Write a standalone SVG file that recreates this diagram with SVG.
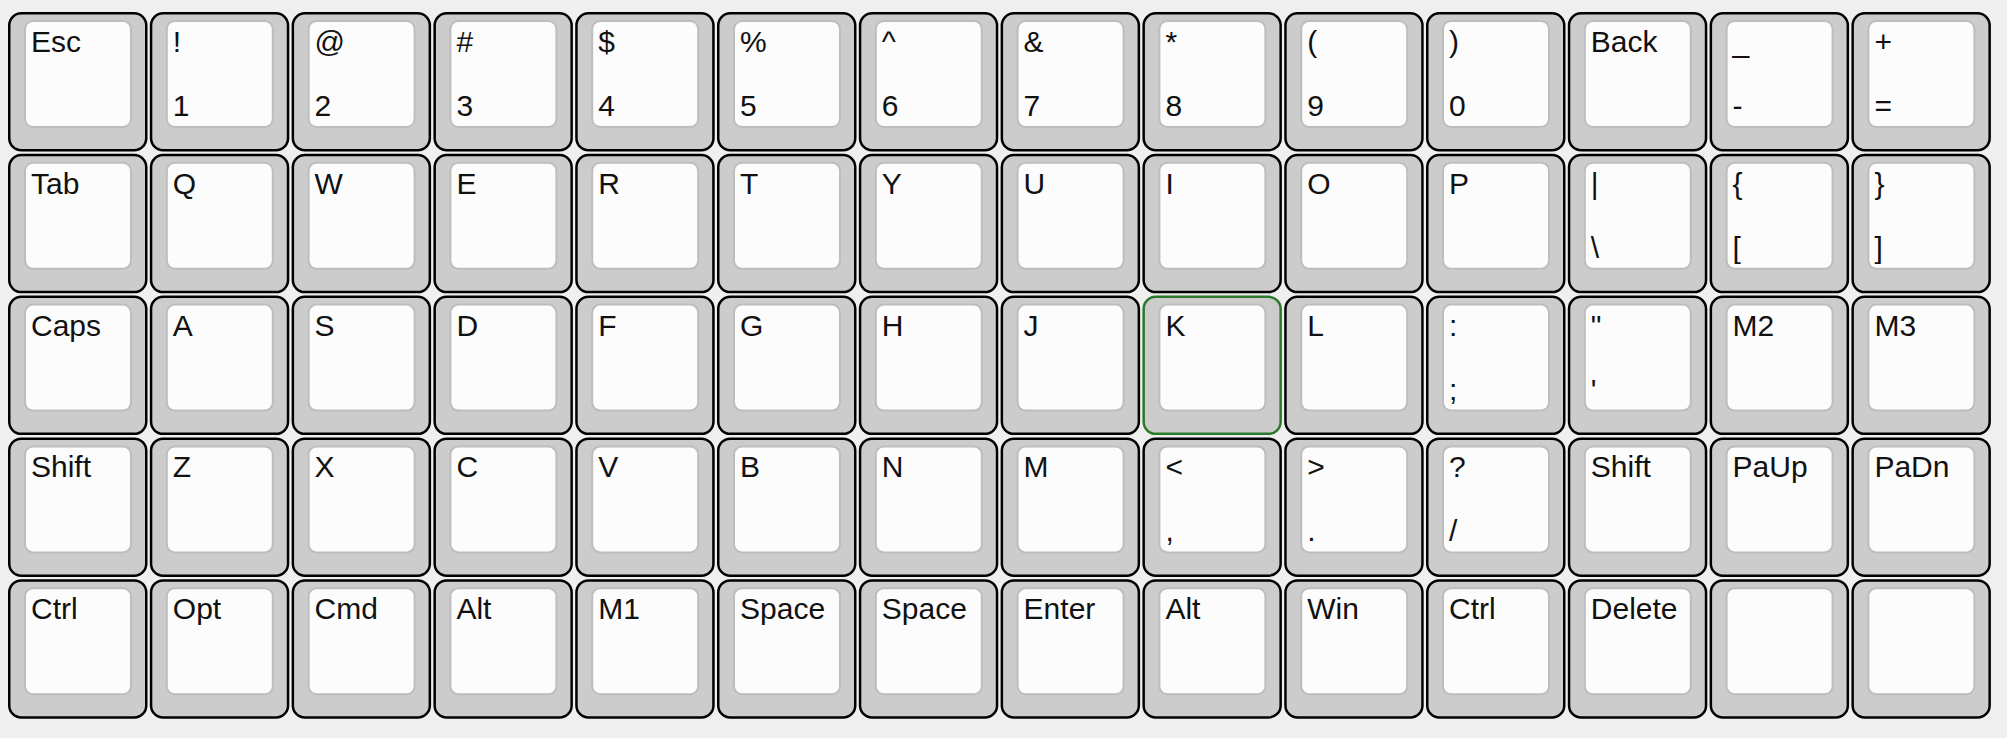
<svg xmlns="http://www.w3.org/2000/svg" xmlns:xlink="http://www.w3.org/1999/xlink" width="2007" height="738" viewBox="0 0 2007 738">
<style>
.t{font-family:"Liberation Sans",Arial,sans-serif;font-size:30px;fill:#111}
.outer{fill:#cccccc;stroke:#000;stroke-width:2.5}
.sel{fill:#cccccc;stroke:#2a7a2a;stroke-width:2.5}
.inner{fill:#fcfcfc;stroke:#bdbdbd;stroke-width:2}
</style>
<defs>
<g id="cap"><rect class="outer" x="1.25" y="1.25" width="137" height="137" rx="12"/><rect class="inner" x="17" y="9" width="106" height="106" rx="8"/></g>
<g id="capsel"><rect class="sel" x="1.25" y="1.25" width="137" height="137" rx="12"/><rect class="inner" x="17" y="9" width="106" height="106" rx="8"/></g>
</defs>
<rect width="2007" height="738" fill="#efefef"/>
<g id="row0">
<g id="k-esc" transform="translate(8,12)"><use href="#cap"/><text class="t" x="23" y="40">Esc</text></g>
<g id="k-1" transform="translate(149.8,12)"><use href="#cap"/><text class="t" x="23" y="40">!</text><text class="t" x="23" y="104">1</text></g>
<g id="k-2" transform="translate(291.6,12)"><use href="#cap"/><text class="t" x="23" y="40">@</text><text class="t" x="23" y="104">2</text></g>
<g id="k-3" transform="translate(433.4,12)"><use href="#cap"/><text class="t" x="23" y="40">#</text><text class="t" x="23" y="104">3</text></g>
<g id="k-4" transform="translate(575.2,12)"><use href="#cap"/><text class="t" x="23" y="40">$</text><text class="t" x="23" y="104">4</text></g>
<g id="k-5" transform="translate(717,12)"><use href="#cap"/><text class="t" x="23" y="40">%</text><text class="t" x="23" y="104">5</text></g>
<g id="k-6" transform="translate(858.8,12)"><use href="#cap"/><text class="t" x="23" y="40">^</text><text class="t" x="23" y="104">6</text></g>
<g id="k-7" transform="translate(1000.6,12)"><use href="#cap"/><text class="t" x="23" y="40">&amp;</text><text class="t" x="23" y="104">7</text></g>
<g id="k-8" transform="translate(1142.4,12)"><use href="#cap"/><text class="t" x="23" y="40">*</text><text class="t" x="23" y="104">8</text></g>
<g id="k-9" transform="translate(1284.2,12)"><use href="#cap"/><text class="t" x="23" y="40">(</text><text class="t" x="23" y="104">9</text></g>
<g id="k-0" transform="translate(1426,12)"><use href="#cap"/><text class="t" x="23" y="40">)</text><text class="t" x="23" y="104">0</text></g>
<g id="k-back" transform="translate(1567.8,12)"><use href="#cap"/><text class="t" x="23" y="40">Back</text></g>
<g id="k-minus" transform="translate(1709.6,12)"><use href="#cap"/><text class="t" x="23" y="40">_</text><text class="t" x="23" y="104">-</text></g>
<g id="k-equal" transform="translate(1851.4,12)"><use href="#cap"/><text class="t" x="23" y="40">+</text><text class="t" x="23" y="104">=</text></g>
</g>
<g id="row1">
<g id="k-tab" transform="translate(8,153.8)"><use href="#cap"/><text class="t" x="23" y="40">Tab</text></g>
<g id="k-q" transform="translate(149.8,153.8)"><use href="#cap"/><text class="t" x="23" y="40">Q</text></g>
<g id="k-w" transform="translate(291.6,153.8)"><use href="#cap"/><text class="t" x="23" y="40">W</text></g>
<g id="k-e" transform="translate(433.4,153.8)"><use href="#cap"/><text class="t" x="23" y="40">E</text></g>
<g id="k-r" transform="translate(575.2,153.8)"><use href="#cap"/><text class="t" x="23" y="40">R</text></g>
<g id="k-t" transform="translate(717,153.8)"><use href="#cap"/><text class="t" x="23" y="40">T</text></g>
<g id="k-y" transform="translate(858.8,153.8)"><use href="#cap"/><text class="t" x="23" y="40">Y</text></g>
<g id="k-u" transform="translate(1000.6,153.8)"><use href="#cap"/><text class="t" x="23" y="40">U</text></g>
<g id="k-i" transform="translate(1142.4,153.8)"><use href="#cap"/><text class="t" x="23" y="40">I</text></g>
<g id="k-o" transform="translate(1284.2,153.8)"><use href="#cap"/><text class="t" x="23" y="40">O</text></g>
<g id="k-p" transform="translate(1426,153.8)"><use href="#cap"/><text class="t" x="23" y="40">P</text></g>
<g id="k-pipe" transform="translate(1567.8,153.8)"><use href="#cap"/><text class="t" x="23" y="40">|</text><text class="t" x="23" y="104">\</text></g>
<g id="k-lbrace" transform="translate(1709.6,153.8)"><use href="#cap"/><text class="t" x="23" y="40">{</text><text class="t" x="23" y="104">[</text></g>
<g id="k-rbrace" transform="translate(1851.4,153.8)"><use href="#cap"/><text class="t" x="23" y="40">}</text><text class="t" x="23" y="104">]</text></g>
</g>
<g id="row2">
<g id="k-caps" transform="translate(8,295.6)"><use href="#cap"/><text class="t" x="23" y="40">Caps</text></g>
<g id="k-a" transform="translate(149.8,295.6)"><use href="#cap"/><text class="t" x="23" y="40">A</text></g>
<g id="k-s" transform="translate(291.6,295.6)"><use href="#cap"/><text class="t" x="23" y="40">S</text></g>
<g id="k-d" transform="translate(433.4,295.6)"><use href="#cap"/><text class="t" x="23" y="40">D</text></g>
<g id="k-f" transform="translate(575.2,295.6)"><use href="#cap"/><text class="t" x="23" y="40">F</text></g>
<g id="k-g" transform="translate(717,295.6)"><use href="#cap"/><text class="t" x="23" y="40">G</text></g>
<g id="k-h" transform="translate(858.8,295.6)"><use href="#cap"/><text class="t" x="23" y="40">H</text></g>
<g id="k-j" transform="translate(1000.6,295.6)"><use href="#cap"/><text class="t" x="23" y="40">J</text></g>
<g id="k-k" transform="translate(1142.4,295.6)"><use href="#capsel"/><text class="t" x="23" y="40">K</text></g>
<g id="k-l" transform="translate(1284.2,295.6)"><use href="#cap"/><text class="t" x="23" y="40">L</text></g>
<g id="k-semi" transform="translate(1426,295.6)"><use href="#cap"/><text class="t" x="23" y="40">:</text><text class="t" x="23" y="104">;</text></g>
<g id="k-quote" transform="translate(1567.8,295.6)"><use href="#cap"/><text class="t" x="23" y="40">"</text><text class="t" x="23" y="104">'</text></g>
<g id="k-m2" transform="translate(1709.6,295.6)"><use href="#cap"/><text class="t" x="23" y="40">M2</text></g>
<g id="k-m3" transform="translate(1851.4,295.6)"><use href="#cap"/><text class="t" x="23" y="40">M3</text></g>
</g>
<g id="row3">
<g id="k-lshift" transform="translate(8,437.4)"><use href="#cap"/><text class="t" x="23" y="40">Shift</text></g>
<g id="k-z" transform="translate(149.8,437.4)"><use href="#cap"/><text class="t" x="23" y="40">Z</text></g>
<g id="k-x" transform="translate(291.6,437.4)"><use href="#cap"/><text class="t" x="23" y="40">X</text></g>
<g id="k-c" transform="translate(433.4,437.4)"><use href="#cap"/><text class="t" x="23" y="40">C</text></g>
<g id="k-v" transform="translate(575.2,437.4)"><use href="#cap"/><text class="t" x="23" y="40">V</text></g>
<g id="k-b" transform="translate(717,437.4)"><use href="#cap"/><text class="t" x="23" y="40">B</text></g>
<g id="k-n" transform="translate(858.8,437.4)"><use href="#cap"/><text class="t" x="23" y="40">N</text></g>
<g id="k-m" transform="translate(1000.6,437.4)"><use href="#cap"/><text class="t" x="23" y="40">M</text></g>
<g id="k-comma" transform="translate(1142.4,437.4)"><use href="#cap"/><text class="t" x="23" y="40">&lt;</text><text class="t" x="23" y="104">,</text></g>
<g id="k-period" transform="translate(1284.2,437.4)"><use href="#cap"/><text class="t" x="23" y="40">&gt;</text><text class="t" x="23" y="104">.</text></g>
<g id="k-slash" transform="translate(1426,437.4)"><use href="#cap"/><text class="t" x="23" y="40">?</text><text class="t" x="23" y="104">/</text></g>
<g id="k-rshift" transform="translate(1567.8,437.4)"><use href="#cap"/><text class="t" x="23" y="40">Shift</text></g>
<g id="k-paup" transform="translate(1709.6,437.4)"><use href="#cap"/><text class="t" x="23" y="40">PaUp</text></g>
<g id="k-padn" transform="translate(1851.4,437.4)"><use href="#cap"/><text class="t" x="23" y="40">PaDn</text></g>
</g>
<g id="row4">
<g id="k-lctrl" transform="translate(8,579.2)"><use href="#cap"/><text class="t" x="23" y="40">Ctrl</text></g>
<g id="k-opt" transform="translate(149.8,579.2)"><use href="#cap"/><text class="t" x="23" y="40">Opt</text></g>
<g id="k-cmd" transform="translate(291.6,579.2)"><use href="#cap"/><text class="t" x="23" y="40">Cmd</text></g>
<g id="k-lalt" transform="translate(433.4,579.2)"><use href="#cap"/><text class="t" x="23" y="40">Alt</text></g>
<g id="k-m1" transform="translate(575.2,579.2)"><use href="#cap"/><text class="t" x="23" y="40">M1</text></g>
<g id="k-space1" transform="translate(717,579.2)"><use href="#cap"/><text class="t" x="23" y="40">Space</text></g>
<g id="k-space2" transform="translate(858.8,579.2)"><use href="#cap"/><text class="t" x="23" y="40">Space</text></g>
<g id="k-enter" transform="translate(1000.6,579.2)"><use href="#cap"/><text class="t" x="23" y="40">Enter</text></g>
<g id="k-ralt" transform="translate(1142.4,579.2)"><use href="#cap"/><text class="t" x="23" y="40">Alt</text></g>
<g id="k-win" transform="translate(1284.2,579.2)"><use href="#cap"/><text class="t" x="23" y="40">Win</text></g>
<g id="k-rctrl" transform="translate(1426,579.2)"><use href="#cap"/><text class="t" x="23" y="40">Ctrl</text></g>
<g id="k-delete" transform="translate(1567.8,579.2)"><use href="#cap"/><text class="t" x="23" y="40">Delete</text></g>
<g id="k-blank1" transform="translate(1709.6,579.2)"><use href="#cap"/></g>
<g id="k-blank2" transform="translate(1851.4,579.2)"><use href="#cap"/></g>
</g>
<g id="connectors"/>
</svg>
